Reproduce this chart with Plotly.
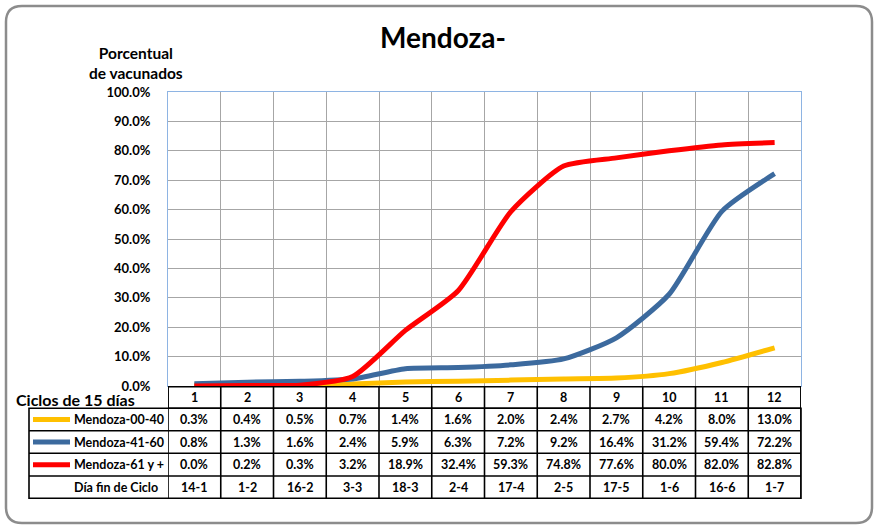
import plotly.graph_objects as go

ciclos = [1, 2, 3, 4, 5, 6, 7, 8, 9, 10, 11, 12]
dia_fin = ["14-1", "1-2", "16-2", "3-3", "18-3", "2-4", "17-4", "2-5", "17-5", "1-6", "16-6", "1-7"]
serie_00_40 = [0.3, 0.4, 0.5, 0.7, 1.4, 1.6, 2.0, 2.4, 2.7, 4.2, 8.0, 13.0]
serie_41_60 = [0.8, 1.3, 1.6, 2.4, 5.9, 6.3, 7.2, 9.2, 16.4, 31.2, 59.4, 72.2]
serie_61_mas = [0.0, 0.2, 0.3, 3.2, 18.9, 32.4, 59.3, 74.8, 77.6, 80.0, 82.0, 82.8]
nombres = ["Mendoza-00-40", "Mendoza-41-60", "Mendoza-61 y +"]
colores = ["#FFC000", "#3C6A9E", "#FF0000"]
series = [serie_00_40, serie_41_60, serie_61_mas]

W, H = 875, 526
L, R, T, B = 168, 801, 92, 386
FONT = "Lato"


def px(x):
    return (x - L) / (R - L)


def py(y):
    return (B - y) / (B - T)


fig = go.Figure()
for nombre, color, vals in zip(nombres, colores, series):
    fig.add_trace(go.Scatter(
        x=ciclos, y=[v / 100 for v in vals], name=nombre, mode="lines",
        line=dict(color=color, width=5, shape="spline", smoothing=0.6),
        showlegend=False,
    ))

shapes = []
annotations = []

# outer rounded border
x0, y0, x1, y1, r = 6, 6, 872, 523, 16
path = (f"M {px(x0 + r)},{py(y0)} L {px(x1 - r)},{py(y0)} "
        f"Q {px(x1)},{py(y0)} {px(x1)},{py(y0 + r)} L {px(x1)},{py(y1 - r)} "
        f"Q {px(x1)},{py(y1)} {px(x1 - r)},{py(y1)} L {px(x0 + r)},{py(y1)} "
        f"Q {px(x0)},{py(y1)} {px(x0)},{py(y1 - r)} L {px(x0)},{py(y0 + r)} "
        f"Q {px(x0)},{py(y0)} {px(x0 + r)},{py(y0)} Z")
shapes.append(dict(type="path", path=path, xref="paper", yref="paper",
                   line=dict(color="#8C8C8C", width=2.5), layer="below"))

# table geometry
row_edges = [386.7, 408.3, 430.7, 453.3, 476, 498.3]
tab_left = 29
lw = 1.6
shapes.append(dict(type="rect", xref="x", yref="paper", x0=0.5, x1=12.5,
                   y0=py(row_edges[0]), y1=py(row_edges[1]),
                   line=dict(color="black", width=lw)))
shapes.append(dict(type="rect", xref="paper", yref="paper", x0=px(tab_left), x1=1,
                   y0=py(row_edges[1]), y1=py(row_edges[5]),
                   line=dict(color="black", width=lw)))
for ye in row_edges[2:5]:
    shapes.append(dict(type="line", xref="paper", yref="paper", x0=px(tab_left), x1=1,
                       y0=py(ye), y1=py(ye), line=dict(color="black", width=lw)))
for i in range(13):
    shapes.append(dict(type="line", xref="x", yref="paper", x0=i + 0.5, x1=i + 0.5,
                       y0=py(row_edges[0]), y1=py(row_edges[5]),
                       line=dict(color="black", width=lw)))

cell_font = dict(family=FONT, size=12.5, color="black")


def row_center(k):
    return py((row_edges[k] + row_edges[k + 1]) / 2)


def ann(x, y, text, xref="x", xanchor="center", font=cell_font, **kw):
    annotations.append(dict(x=x, y=y, xref=xref, yref="paper", text=text, showarrow=False,
                            xanchor=xanchor, yanchor="middle", font=font, **kw))


for c in ciclos:
    ann(c, row_center(0), f"<b>{c}</b>")
for k, vals in enumerate(series):
    for c, v in zip(ciclos, vals):
        ann(c, row_center(k + 1), f"<b>{v:.1f}%</b>")
    shapes.append(dict(type="line", xref="paper", yref="paper", x0=px(33), x1=px(70),
                       y0=row_center(k + 1), y1=row_center(k + 1),
                       line=dict(color=colores[k], width=5)))
    ann(px(72), row_center(k + 1), f"<b>{nombres[k]}</b>", xref="paper", xanchor="left")
for c, d in zip(ciclos, dia_fin):
    ann(c, row_center(4), f"<b>{d}</b>")
ann(px(72), row_center(4), "<b>Día fin de Ciclo</b>", xref="paper", xanchor="left")

ann(px(14), py(399), "<b>Ciclos de 15 días</b>", xref="paper", xanchor="left",
    font=dict(family=FONT, size=16, color="black"))
ann(px(136), py(63), "<b>Porcentual<br>de vacunados</b>", xref="paper",
    font=dict(family=FONT, size=15.5, color="black"), align="center")

fig.update_layout(
    width=W, height=H,
    margin=dict(l=L, r=W - R, t=T, b=H - B, pad=0),
    paper_bgcolor="white", plot_bgcolor="white",
    title=dict(text="<b>Mendoza-</b>", x=443 / W, xanchor="center", y=1 - 38 / H,
               yanchor="middle", font=dict(family=FONT, size=28, color="black")),
    xaxis=dict(range=[0.5, 12.5], tickvals=[i + 0.5 for i in range(13)],
               showticklabels=False, showgrid=True, gridcolor="#A6A6A6", gridwidth=1,
               zeroline=False, showline=True, mirror=True, linecolor="#8EB4E3",
               linewidth=1, ticks=""),
    yaxis=dict(range=[0, 1], dtick=0.1, tick0=0, tickformat=".1%",
               showgrid=True, gridcolor="#A6A6A6", gridwidth=1, zeroline=False,
               showline=True, mirror=True, linecolor="#8EB4E3", linewidth=1,
               ticks="", ticklabelstandoff=14,
               tickfont=dict(family=FONT, size=13, color="black", weight="bold")),
    shapes=shapes, annotations=annotations,
)

fig.write_html("out.html", post_script="document.body.style.margin='0';",
               config={"displayModeBar": False})
